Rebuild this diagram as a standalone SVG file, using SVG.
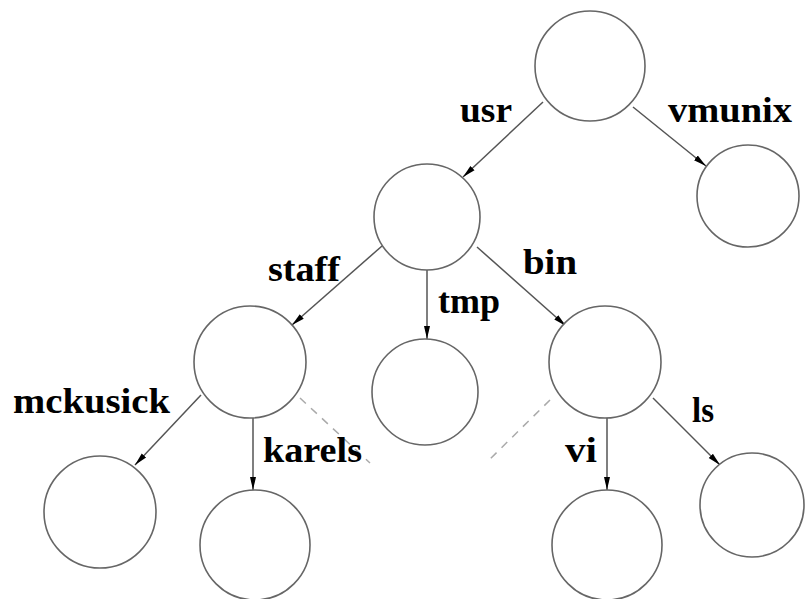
<svg xmlns="http://www.w3.org/2000/svg" width="807" height="599" viewBox="0 0 807 599">
<style>
.node{fill:#fff;stroke:#666;stroke-width:1.6}
.edge{stroke:#555;stroke-width:1.5;fill:none}
.dash{stroke:#aaa;stroke-width:1.5;fill:none;stroke-dasharray:8 7}
.lbl{font-family:"Liberation Serif","Times New Roman",serif;font-weight:bold;font-size:35px;fill:#000}
</style>
<defs>
<marker id="ah" markerUnits="userSpaceOnUse" markerWidth="14" markerHeight="8" refX="13" refY="4" orient="auto">
<path d="M0,1 L13,4 L0,7 z" fill="#000"/>
</marker>
</defs>
<rect width="807" height="599" fill="#fff"/>
<g id="connectors">
<line class="edge" x1="543" y1="102" x2="463" y2="177" marker-end="url(#ah)"/>
<line class="edge" x1="633" y1="107" x2="706" y2="166" marker-end="url(#ah)"/>
<line class="edge" x1="382" y1="246" x2="292" y2="325" marker-end="url(#ah)"/>
<line class="edge" x1="427" y1="270" x2="427" y2="339" marker-end="url(#ah)"/>
<line class="edge" x1="477" y1="247" x2="566" y2="326" marker-end="url(#ah)"/>
<line class="edge" x1="201" y1="395" x2="135" y2="465" marker-end="url(#ah)"/>
<line class="edge" x1="253" y1="418" x2="253" y2="490" marker-end="url(#ah)"/>
<line class="edge" x1="607" y1="418" x2="607" y2="490" marker-end="url(#ah)"/>
<line class="edge" x1="653" y1="398" x2="720" y2="465" marker-end="url(#ah)"/>
<line class="dash" x1="300" y1="398" x2="370" y2="463"/>
<line class="dash" x1="550" y1="400" x2="487" y2="462"/>
</g>
<g id="root"><circle class="node" cx="590" cy="66" r="55"/></g>
<g id="usr"><circle class="node" cx="427" cy="217" r="53"/></g>
<g id="vmunix"><circle class="node" cx="748" cy="196" r="51"/></g>
<g id="staff"><circle class="node" cx="250" cy="362" r="56"/></g>
<g id="tmp"><circle class="node" cx="425" cy="392" r="53"/></g>
<g id="bin"><circle class="node" cx="605" cy="362" r="56"/></g>
<g id="mckusick"><circle class="node" cx="100" cy="512" r="56"/></g>
<g id="karels"><circle class="node" cx="255" cy="545" r="55"/></g>
<g id="vi"><circle class="node" cx="607" cy="545" r="55"/></g>
<g id="ls"><circle class="node" cx="752" cy="505" r="52"/></g>
<g id="labels">
<text class="lbl" x="460" y="122" textLength="52" lengthAdjust="spacingAndGlyphs">usr</text>
<text class="lbl" x="668" y="122" textLength="124" lengthAdjust="spacingAndGlyphs">vmunix</text>
<text class="lbl" x="268" y="281" textLength="72" lengthAdjust="spacingAndGlyphs">staff</text>
<text class="lbl" x="523" y="274" textLength="54" lengthAdjust="spacingAndGlyphs">bin</text>
<text class="lbl" x="438" y="313" textLength="62" lengthAdjust="spacingAndGlyphs">tmp</text>
<text class="lbl" x="13" y="413" textLength="157" lengthAdjust="spacingAndGlyphs">mckusick</text>
<text class="lbl" x="263" y="462" textLength="99" lengthAdjust="spacingAndGlyphs">karels</text>
<text class="lbl" x="565" y="462" textLength="32" lengthAdjust="spacingAndGlyphs">vi</text>
<text class="lbl" x="692" y="422" textLength="22" lengthAdjust="spacingAndGlyphs">ls</text>
</g>
</svg>
